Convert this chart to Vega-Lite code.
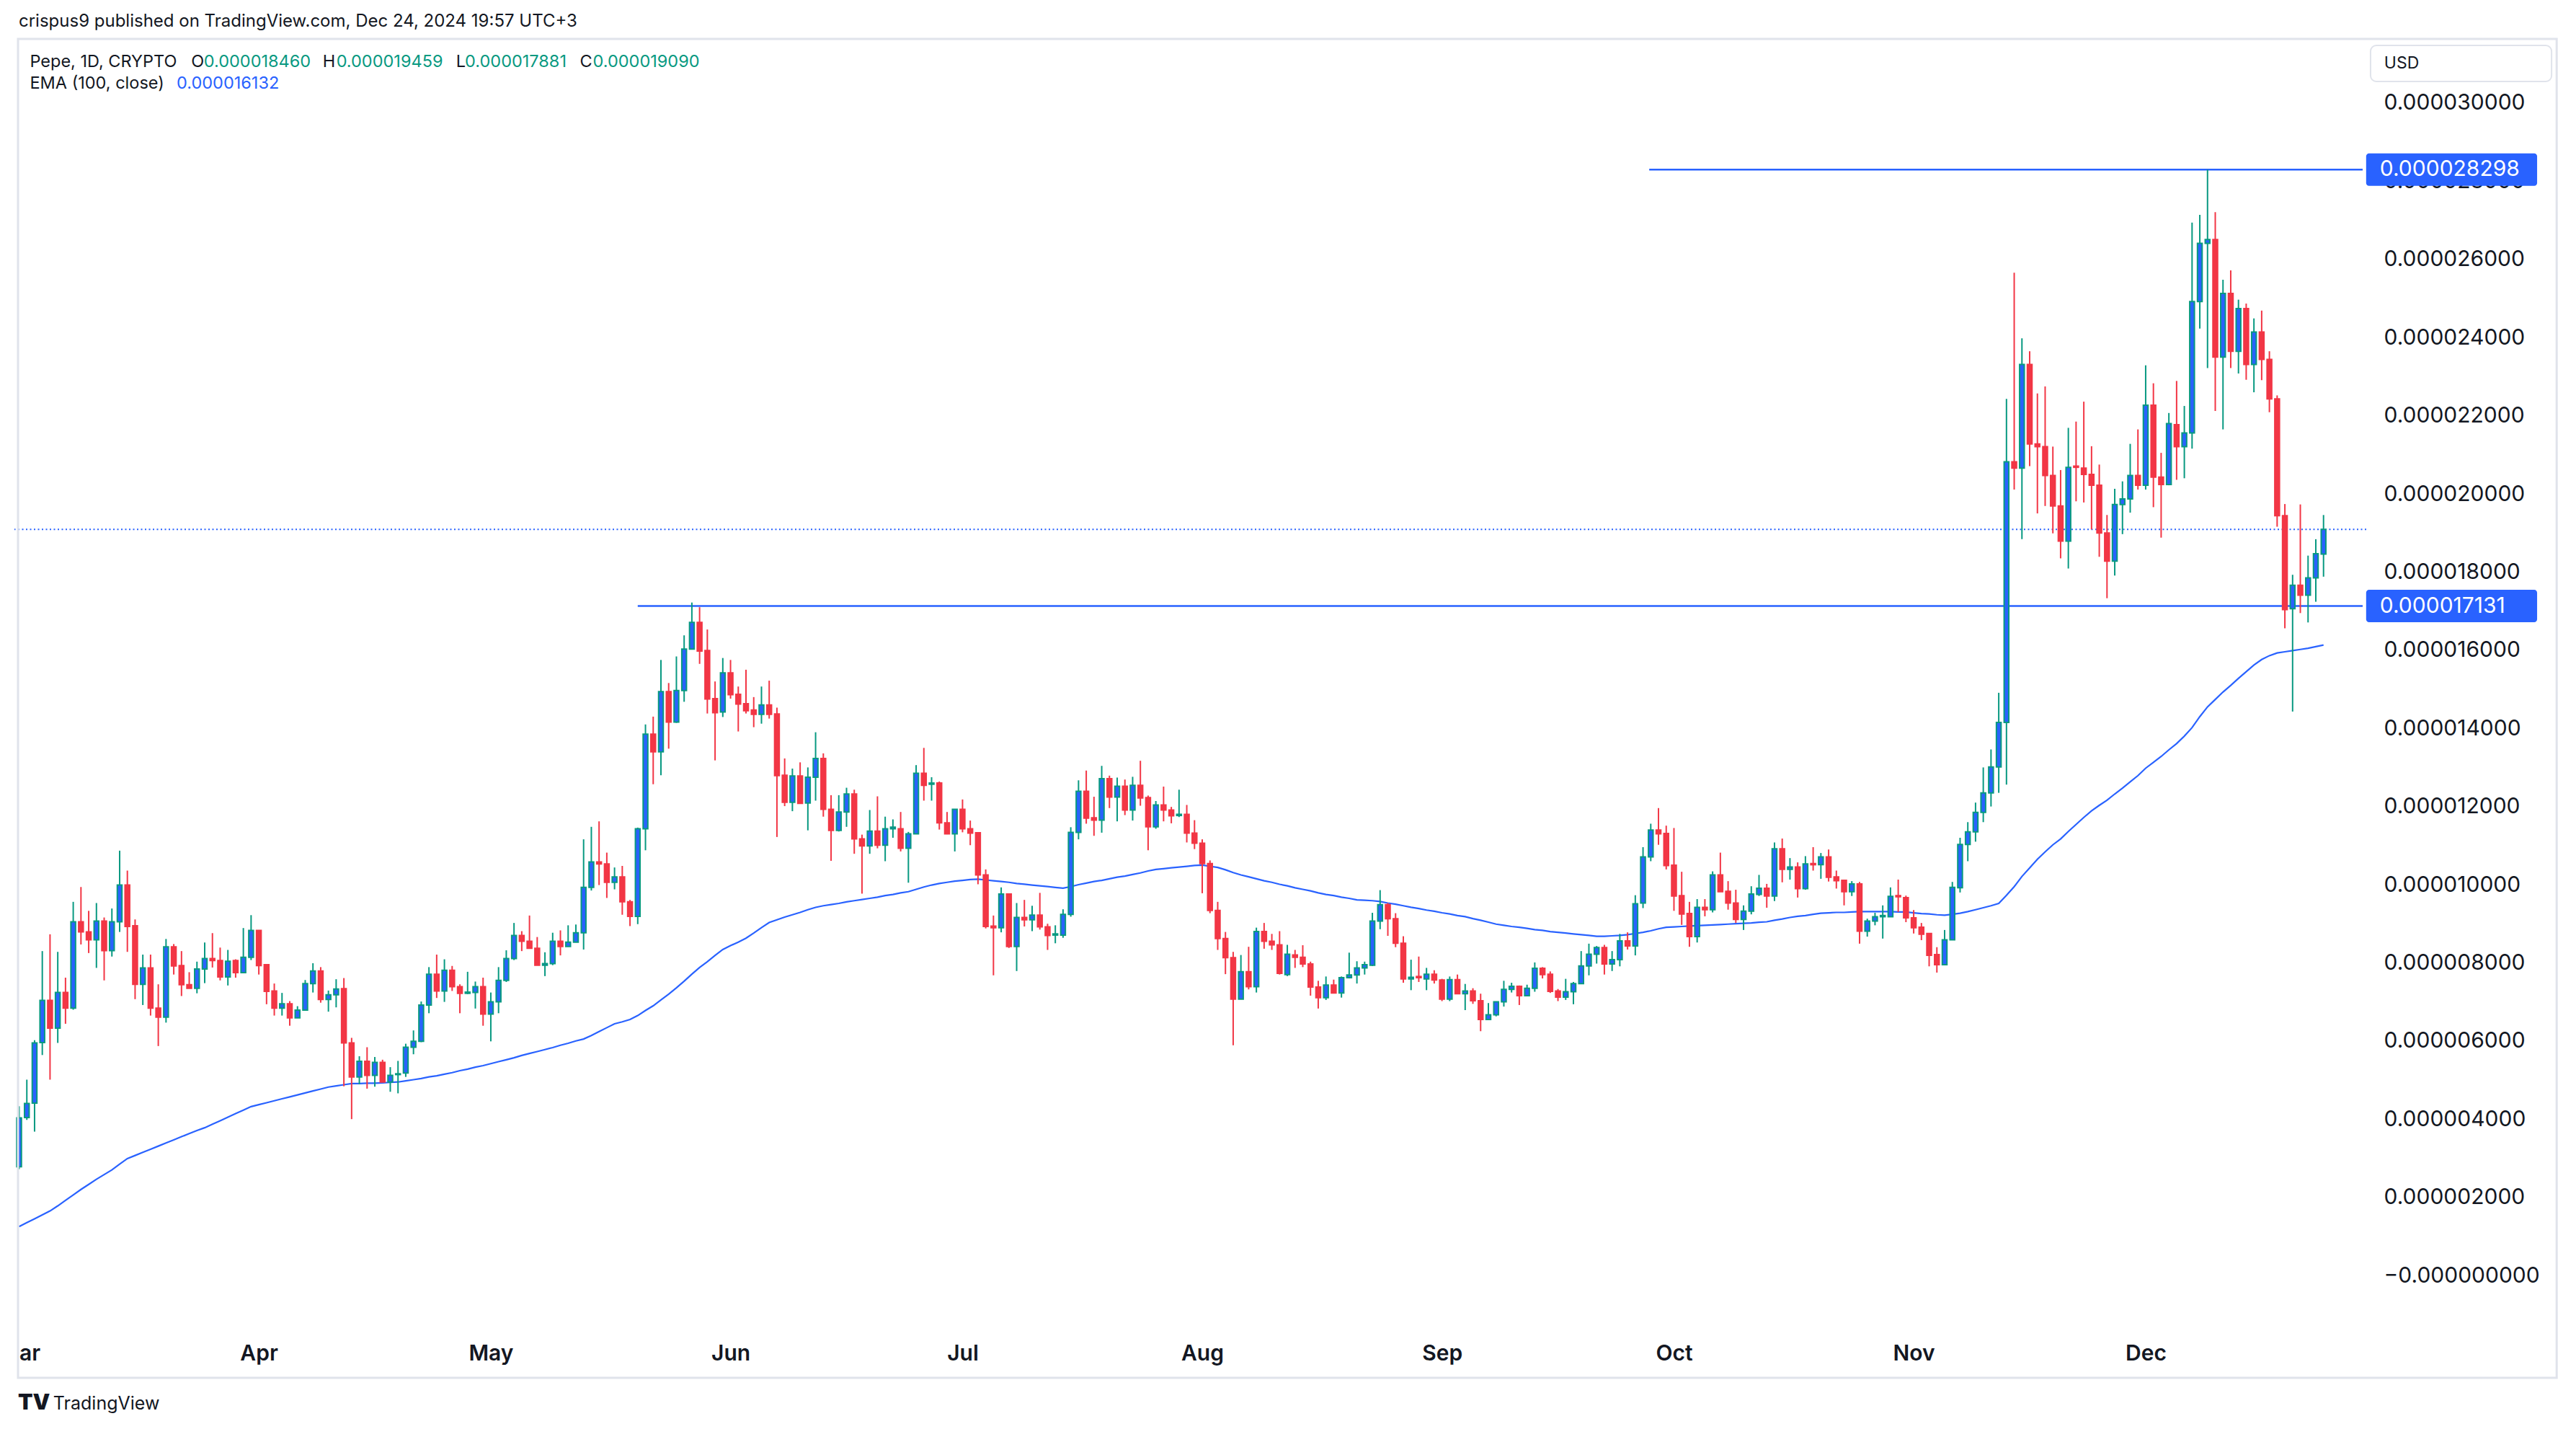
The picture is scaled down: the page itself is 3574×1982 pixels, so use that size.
{
"$schema": "https://vega.github.io/schema/vega-lite/v6.json",
"width": 3263, "height": 1791,
"autosize": {"type": "none"},
"padding": {"left": 20, "top": 54, "right": 291, "bottom": 137},
"background": "#ffffff",
"config": {"view": {"stroke": null}, "font": "Inter"},
"data": {"values": [
{"t":"2024-03-01","o":2.78e-6,"h":4.33e-6,"l":2.72e-6,"c":4.03e-6,"e":1.25e-6},
{"t":"2024-03-02","o":4.04e-6,"h":5.01e-6,"l":3.98e-6,"c":4.40e-6,"e":1.35e-6},
{"t":"2024-03-03","o":4.41e-6,"h":6.02e-6,"l":3.68e-6,"c":5.95e-6,"e":1.45e-6},
{"t":"2024-03-04","o":5.96e-6,"h":8.30e-6,"l":5.64e-6,"c":7.04e-6,"e":1.55e-6},
{"t":"2024-03-05","o":7.04e-6,"h":8.73e-6,"l":5.01e-6,"c":6.33e-6,"e":1.65e-6},
{"t":"2024-03-06","o":6.33e-6,"h":8.28e-6,"l":5.95e-6,"c":7.24e-6,"e":1.78e-6},
{"t":"2024-03-07","o":7.24e-6,"h":7.62e-6,"l":6.44e-6,"c":6.84e-6,"e":1.92e-6},
{"t":"2024-03-08","o":6.84e-6,"h":9.56e-6,"l":6.80e-6,"c":9.05e-6,"e":2.06e-6},
{"t":"2024-03-09","o":9.05e-6,"h":9.94e-6,"l":8.47e-6,"c":8.79e-6,"e":2.20e-6},
{"t":"2024-03-10","o":8.79e-6,"h":9.33e-6,"l":8.25e-6,"c":8.59e-6,"e":2.33e-6},
{"t":"2024-03-11","o":8.59e-6,"h":9.53e-6,"l":7.87e-6,"c":9.07e-6,"e":2.46e-6},
{"t":"2024-03-12","o":9.07e-6,"h":9.16e-6,"l":7.55e-6,"c":8.31e-6,"e":2.58e-6},
{"t":"2024-03-13","o":8.31e-6,"h":9.39e-6,"l":8.16e-6,"c":9.05e-6,"e":2.70e-6},
{"t":"2024-03-14","o":9.05e-6,"h":10.87e-6,"l":8.79e-6,"c":9.99e-6,"e":2.85e-6},
{"t":"2024-03-15","o":9.99e-6,"h":10.36e-6,"l":8.28e-6,"c":8.93e-6,"e":2.99e-6},
{"t":"2024-03-16","o":8.95e-6,"h":9.11e-6,"l":7.07e-6,"c":7.45e-6,"e":3.07e-6},
{"t":"2024-03-17","o":7.45e-6,"h":8.21e-6,"l":6.92e-6,"c":7.87e-6,"e":3.15e-6},
{"t":"2024-03-18","o":7.87e-6,"h":8.21e-6,"l":6.65e-6,"c":6.84e-6,"e":3.23e-6},
{"t":"2024-03-19","o":6.84e-6,"h":7.45e-6,"l":5.87e-6,"c":6.61e-6,"e":3.31e-6},
{"t":"2024-03-20","o":6.61e-6,"h":8.61e-6,"l":6.47e-6,"c":8.41e-6,"e":3.39e-6},
{"t":"2024-03-21","o":8.41e-6,"h":8.48e-6,"l":7.70e-6,"c":7.92e-6,"e":3.47e-6},
{"t":"2024-03-22","o":7.93e-6,"h":8.30e-6,"l":7.15e-6,"c":7.44e-6,"e":3.55e-6},
{"t":"2024-03-23","o":7.44e-6,"h":7.76e-6,"l":7.35e-6,"c":7.35e-6,"e":3.63e-6},
{"t":"2024-03-24","o":7.35e-6,"h":8.03e-6,"l":7.22e-6,"c":7.84e-6,"e":3.71e-6},
{"t":"2024-03-25","o":7.84e-6,"h":8.52e-6,"l":7.48e-6,"c":8.11e-6,"e":3.78e-6},
{"t":"2024-03-26","o":8.11e-6,"h":8.76e-6,"l":7.88e-6,"c":8.06e-6,"e":3.87e-6},
{"t":"2024-03-27","o":8.06e-6,"h":8.39e-6,"l":7.55e-6,"c":7.64e-6,"e":3.96e-6},
{"t":"2024-03-28","o":7.64e-6,"h":8.33e-6,"l":7.42e-6,"c":8.04e-6,"e":4.05e-6},
{"t":"2024-03-29","o":8.06e-6,"h":8.09e-6,"l":7.62e-6,"c":7.75e-6,"e":4.14e-6},
{"t":"2024-03-30","o":7.75e-6,"h":8.89e-6,"l":7.75e-6,"c":8.14e-6,"e":4.23e-6},
{"t":"2024-03-31","o":8.14e-6,"h":9.22e-6,"l":8.07e-6,"c":8.83e-6,"e":4.32e-6},
{"t":"2024-04-01","o":8.83e-6,"h":8.83e-6,"l":7.70e-6,"c":7.93e-6,"e":4.37e-6},
{"t":"2024-04-02","o":7.95e-6,"h":7.95e-6,"l":6.94e-6,"c":7.27e-6,"e":4.42e-6},
{"t":"2024-04-03","o":7.28e-6,"h":7.47e-6,"l":6.65e-6,"c":6.84e-6,"e":4.47e-6},
{"t":"2024-04-04","o":6.84e-6,"h":7.23e-6,"l":6.65e-6,"c":6.95e-6,"e":4.52e-6},
{"t":"2024-04-05","o":6.95e-6,"h":7.02e-6,"l":6.39e-6,"c":6.59e-6,"e":4.57e-6},
{"t":"2024-04-06","o":6.59e-6,"h":6.89e-6,"l":6.59e-6,"c":6.79e-6,"e":4.62e-6},
{"t":"2024-04-07","o":6.79e-6,"h":7.56e-6,"l":6.78e-6,"c":7.47e-6,"e":4.67e-6},
{"t":"2024-04-08","o":7.47e-6,"h":7.99e-6,"l":7.24e-6,"c":7.79e-6,"e":4.72e-6},
{"t":"2024-04-09","o":7.79e-6,"h":7.89e-6,"l":6.98e-6,"c":7.06e-6,"e":4.77e-6},
{"t":"2024-04-10","o":7.06e-6,"h":7.29e-6,"l":6.75e-6,"c":7.18e-6,"e":4.82e-6},
{"t":"2024-04-11","o":7.18e-6,"h":7.58e-6,"l":6.86e-6,"c":7.33e-6,"e":4.85e-6},
{"t":"2024-04-12","o":7.34e-6,"h":7.61e-6,"l":4.84e-6,"c":5.95e-6,"e":4.88e-6},
{"t":"2024-04-13","o":5.95e-6,"h":6.08e-6,"l":4.00e-6,"c":5.08e-6,"e":4.91e-6},
{"t":"2024-04-14","o":5.08e-6,"h":5.61e-6,"l":4.89e-6,"c":5.48e-6,"e":4.91e-6},
{"t":"2024-04-15","o":5.48e-6,"h":5.84e-6,"l":4.78e-6,"c":5.12e-6,"e":4.92e-6},
{"t":"2024-04-16","o":5.12e-6,"h":5.59e-6,"l":4.83e-6,"c":5.45e-6,"e":4.92e-6},
{"t":"2024-04-17","o":5.45e-6,"h":5.52e-6,"l":4.95e-6,"c":4.95e-6,"e":4.93e-6},
{"t":"2024-04-18","o":4.95e-6,"h":5.33e-6,"l":4.70e-6,"c":5.12e-6,"e":4.94e-6},
{"t":"2024-04-19","o":5.14e-6,"h":5.49e-6,"l":4.66e-6,"c":5.16e-6,"e":4.95e-6},
{"t":"2024-04-20","o":5.18e-6,"h":5.93e-6,"l":5.08e-6,"c":5.84e-6,"e":4.98e-6},
{"t":"2024-04-21","o":5.84e-6,"h":6.27e-6,"l":5.66e-6,"c":5.99e-6,"e":5.01e-6},
{"t":"2024-04-22","o":5.99e-6,"h":7.01e-6,"l":5.97e-6,"c":6.92e-6,"e":5.04e-6},
{"t":"2024-04-23","o":6.92e-6,"h":7.89e-6,"l":6.71e-6,"c":7.71e-6,"e":5.08e-6},
{"t":"2024-04-24","o":7.71e-6,"h":8.21e-6,"l":7.10e-6,"c":7.28e-6,"e":5.11e-6},
{"t":"2024-04-25","o":7.28e-6,"h":8.09e-6,"l":7.00e-6,"c":7.81e-6,"e":5.15e-6},
{"t":"2024-04-26","o":7.81e-6,"h":7.92e-6,"l":7.28e-6,"c":7.39e-6,"e":5.19e-6},
{"t":"2024-04-27","o":7.39e-6,"h":7.45e-6,"l":6.71e-6,"c":7.22e-6,"e":5.24e-6},
{"t":"2024-04-28","o":7.22e-6,"h":7.77e-6,"l":7.20e-6,"c":7.25e-6,"e":5.28e-6},
{"t":"2024-04-29","o":7.24e-6,"h":7.52e-6,"l":6.83e-6,"c":7.39e-6,"e":5.33e-6},
{"t":"2024-04-30","o":7.39e-6,"h":7.62e-6,"l":6.39e-6,"c":6.69e-6,"e":5.37e-6},
{"t":"2024-05-01","o":6.69e-6,"h":7.24e-6,"l":5.99e-6,"c":7.00e-6,"e":5.42e-6},
{"t":"2024-05-02","o":7.00e-6,"h":7.89e-6,"l":6.71e-6,"c":7.55e-6,"e":5.47e-6},
{"t":"2024-05-03","o":7.55e-6,"h":8.32e-6,"l":7.51e-6,"c":8.11e-6,"e":5.52e-6},
{"t":"2024-05-04","o":8.11e-6,"h":9.02e-6,"l":8.07e-6,"c":8.70e-6,"e":5.57e-6},
{"t":"2024-05-05","o":8.70e-6,"h":8.81e-6,"l":8.30e-6,"c":8.55e-6,"e":5.63e-6},
{"t":"2024-05-06","o":8.55e-6,"h":9.21e-6,"l":8.37e-6,"c":8.37e-6,"e":5.68e-6},
{"t":"2024-05-07","o":8.37e-6,"h":8.66e-6,"l":7.94e-6,"c":7.94e-6,"e":5.73e-6},
{"t":"2024-05-08","o":7.94e-6,"h":8.27e-6,"l":7.66e-6,"c":7.98e-6,"e":5.78e-6},
{"t":"2024-05-09","o":7.98e-6,"h":8.77e-6,"l":7.94e-6,"c":8.55e-6,"e":5.83e-6},
{"t":"2024-05-10","o":8.55e-6,"h":8.83e-6,"l":8.19e-6,"c":8.42e-6,"e":5.89e-6},
{"t":"2024-05-11","o":8.42e-6,"h":8.96e-6,"l":8.42e-6,"c":8.53e-6,"e":5.94e-6},
{"t":"2024-05-12","o":8.53e-6,"h":8.98e-6,"l":8.53e-6,"c":8.77e-6,"e":6.00e-6},
{"t":"2024-05-13","o":8.77e-6,"h":11.16e-6,"l":8.34e-6,"c":9.93e-6,"e":6.05e-6},
{"t":"2024-05-14","o":9.93e-6,"h":11.48e-6,"l":9.85e-6,"c":10.58e-6,"e":6.14e-6},
{"t":"2024-05-15","o":10.58e-6,"h":11.62e-6,"l":9.99e-6,"c":10.53e-6,"e":6.24e-6},
{"t":"2024-05-16","o":10.53e-6,"h":10.82e-6,"l":9.66e-6,"c":10.06e-6,"e":6.34e-6},
{"t":"2024-05-17","o":10.06e-6,"h":10.44e-6,"l":9.88e-6,"c":10.20e-6,"e":6.44e-6},
{"t":"2024-05-18","o":10.20e-6,"h":10.48e-6,"l":9.23e-6,"c":9.56e-6,"e":6.49e-6},
{"t":"2024-05-19","o":9.56e-6,"h":9.61e-6,"l":8.94e-6,"c":9.19e-6,"e":6.55e-6},
{"t":"2024-05-20","o":9.19e-6,"h":11.46e-6,"l":8.99e-6,"c":11.43e-6,"e":6.65e-6},
{"t":"2024-05-21","o":11.43e-6,"h":14.10e-6,"l":10.88e-6,"c":13.85e-6,"e":6.78e-6},
{"t":"2024-05-22","o":13.85e-6,"h":14.30e-6,"l":12.57e-6,"c":13.40e-6,"e":6.90e-6},
{"t":"2024-05-23","o":13.40e-6,"h":15.75e-6,"l":12.80e-6,"c":14.94e-6,"e":7.05e-6},
{"t":"2024-05-24","o":14.94e-6,"h":15.16e-6,"l":13.48e-6,"c":14.16e-6,"e":7.20e-6},
{"t":"2024-05-25","o":14.16e-6,"h":15.84e-6,"l":14.14e-6,"c":14.97e-6,"e":7.36e-6},
{"t":"2024-05-26","o":14.97e-6,"h":16.38e-6,"l":14.68e-6,"c":16.03e-6,"e":7.53e-6},
{"t":"2024-05-27","o":16.03e-6,"h":17.22e-6,"l":16.03e-6,"c":16.71e-6,"e":7.71e-6},
{"t":"2024-05-28","o":16.71e-6,"h":17.10e-6,"l":15.65e-6,"c":15.98e-6,"e":7.88e-6},
{"t":"2024-05-29","o":15.99e-6,"h":16.53e-6,"l":14.38e-6,"c":14.75e-6,"e":8.03e-6},
{"t":"2024-05-30","o":14.76e-6,"h":15.20e-6,"l":13.18e-6,"c":14.40e-6,"e":8.19e-6},
{"t":"2024-05-31","o":14.42e-6,"h":15.80e-6,"l":14.29e-6,"c":15.42e-6,"e":8.34e-6},
{"t":"2024-06-01","o":15.42e-6,"h":15.75e-6,"l":14.76e-6,"c":14.86e-6,"e":8.44e-6},
{"t":"2024-06-02","o":14.87e-6,"h":15.07e-6,"l":13.92e-6,"c":14.62e-6,"e":8.53e-6},
{"t":"2024-06-03","o":14.63e-6,"h":15.50e-6,"l":14.38e-6,"c":14.45e-6,"e":8.63e-6},
{"t":"2024-06-04","o":14.47e-6,"h":14.80e-6,"l":14.03e-6,"c":14.36e-6,"e":8.76e-6},
{"t":"2024-06-05","o":14.36e-6,"h":15.07e-6,"l":14.12e-6,"c":14.60e-6,"e":8.90e-6},
{"t":"2024-06-06","o":14.60e-6,"h":15.22e-6,"l":14.25e-6,"c":14.36e-6,"e":9.03e-6},
{"t":"2024-06-07","o":14.37e-6,"h":14.53e-6,"l":11.22e-6,"c":12.79e-6,"e":9.10e-6},
{"t":"2024-06-08","o":12.80e-6,"h":13.23e-6,"l":12.01e-6,"c":12.11e-6,"e":9.17e-6},
{"t":"2024-06-09","o":12.11e-6,"h":12.97e-6,"l":11.88e-6,"c":12.78e-6,"e":9.23e-6},
{"t":"2024-06-10","o":12.78e-6,"h":13.13e-6,"l":12.08e-6,"c":12.08e-6,"e":9.29e-6},
{"t":"2024-06-11","o":12.09e-6,"h":13.00e-6,"l":11.39e-6,"c":12.75e-6,"e":9.36e-6},
{"t":"2024-06-12","o":12.75e-6,"h":13.90e-6,"l":12.15e-6,"c":13.23e-6,"e":9.42e-6},
{"t":"2024-06-13","o":13.23e-6,"h":13.36e-6,"l":11.74e-6,"c":11.93e-6,"e":9.46e-6},
{"t":"2024-06-14","o":11.93e-6,"h":12.29e-6,"l":10.61e-6,"c":11.39e-6,"e":9.49e-6},
{"t":"2024-06-15","o":11.39e-6,"h":12.29e-6,"l":11.36e-6,"c":11.86e-6,"e":9.52e-6},
{"t":"2024-06-16","o":11.86e-6,"h":12.48e-6,"l":11.48e-6,"c":12.32e-6,"e":9.56e-6},
{"t":"2024-06-17","o":12.32e-6,"h":12.43e-6,"l":10.79e-6,"c":11.17e-6,"e":9.59e-6},
{"t":"2024-06-18","o":11.17e-6,"h":11.28e-6,"l":9.77e-6,"c":10.99e-6,"e":9.62e-6},
{"t":"2024-06-19","o":10.99e-6,"h":11.91e-6,"l":10.79e-6,"c":11.37e-6,"e":9.65e-6},
{"t":"2024-06-20","o":11.37e-6,"h":12.26e-6,"l":10.93e-6,"c":11.01e-6,"e":9.68e-6},
{"t":"2024-06-21","o":11.01e-6,"h":11.74e-6,"l":10.60e-6,"c":11.43e-6,"e":9.72e-6},
{"t":"2024-06-22","o":11.43e-6,"h":11.67e-6,"l":11.20e-6,"c":11.47e-6,"e":9.75e-6},
{"t":"2024-06-23","o":11.43e-6,"h":11.86e-6,"l":10.85e-6,"c":10.93e-6,"e":9.79e-6},
{"t":"2024-06-24","o":10.93e-6,"h":11.35e-6,"l":10.05e-6,"c":11.30e-6,"e":9.82e-6},
{"t":"2024-06-25","o":11.30e-6,"h":13.06e-6,"l":11.30e-6,"c":12.85e-6,"e":9.88e-6},
{"t":"2024-06-26","o":12.85e-6,"h":13.50e-6,"l":12.15e-6,"c":12.54e-6,"e":9.94e-6},
{"t":"2024-06-27","o":12.57e-6,"h":12.75e-6,"l":12.15e-6,"c":12.60e-6,"e":9.99e-6},
{"t":"2024-06-28","o":12.60e-6,"h":12.64e-6,"l":11.41e-6,"c":11.58e-6,"e":10.03e-6},
{"t":"2024-06-29","o":11.58e-6,"h":11.86e-6,"l":11.29e-6,"c":11.30e-6,"e":10.06e-6},
{"t":"2024-06-30","o":11.30e-6,"h":11.93e-6,"l":10.85e-6,"c":11.93e-6,"e":10.09e-6},
{"t":"2024-07-01","o":11.93e-6,"h":12.18e-6,"l":11.34e-6,"c":11.43e-6,"e":10.11e-6},
{"t":"2024-07-02","o":11.43e-6,"h":11.64e-6,"l":11.01e-6,"c":11.32e-6,"e":10.13e-6},
{"t":"2024-07-03","o":11.33e-6,"h":11.34e-6,"l":10.01e-6,"c":10.25e-6,"e":10.14e-6},
{"t":"2024-07-04","o":10.25e-6,"h":10.39e-6,"l":8.88e-6,"c":8.93e-6,"e":10.12e-6},
{"t":"2024-07-05","o":8.94e-6,"h":9.21e-6,"l":7.68e-6,"c":8.90e-6,"e":10.10e-6},
{"t":"2024-07-06","o":8.90e-6,"h":9.93e-6,"l":8.78e-6,"c":9.76e-6,"e":10.08e-6},
{"t":"2024-07-07","o":9.76e-6,"h":9.76e-6,"l":8.38e-6,"c":8.42e-6,"e":10.06e-6},
{"t":"2024-07-08","o":8.42e-6,"h":9.53e-6,"l":7.79e-6,"c":9.16e-6,"e":10.03e-6},
{"t":"2024-07-09","o":9.16e-6,"h":9.61e-6,"l":8.93e-6,"c":9.10e-6,"e":10.01e-6},
{"t":"2024-07-10","o":9.10e-6,"h":9.46e-6,"l":8.81e-6,"c":9.22e-6,"e":9.99e-6},
{"t":"2024-07-11","o":9.22e-6,"h":9.79e-6,"l":8.85e-6,"c":8.92e-6,"e":9.97e-6},
{"t":"2024-07-12","o":8.92e-6,"h":9.00e-6,"l":8.33e-6,"c":8.70e-6,"e":9.95e-6},
{"t":"2024-07-13","o":8.71e-6,"h":8.96e-6,"l":8.50e-6,"c":8.74e-6,"e":9.93e-6},
{"t":"2024-07-14","o":8.71e-6,"h":9.37e-6,"l":8.64e-6,"c":9.24e-6,"e":9.91e-6},
{"t":"2024-07-15","o":9.24e-6,"h":11.47e-6,"l":9.18e-6,"c":11.34e-6,"e":9.95e-6},
{"t":"2024-07-16","o":11.34e-6,"h":12.67e-6,"l":11.16e-6,"c":12.39e-6,"e":10.00e-6},
{"t":"2024-07-17","o":12.39e-6,"h":12.92e-6,"l":11.56e-6,"c":11.70e-6,"e":10.04e-6},
{"t":"2024-07-18","o":11.71e-6,"h":12.25e-6,"l":11.25e-6,"c":11.65e-6,"e":10.08e-6},
{"t":"2024-07-19","o":11.65e-6,"h":13.04e-6,"l":11.33e-6,"c":12.71e-6,"e":10.11e-6},
{"t":"2024-07-20","o":12.71e-6,"h":12.79e-6,"l":11.96e-6,"c":12.24e-6,"e":10.15e-6},
{"t":"2024-07-21","o":12.24e-6,"h":12.74e-6,"l":11.62e-6,"c":12.52e-6,"e":10.19e-6},
{"t":"2024-07-22","o":12.52e-6,"h":12.69e-6,"l":11.78e-6,"c":11.91e-6,"e":10.22e-6},
{"t":"2024-07-23","o":11.91e-6,"h":12.76e-6,"l":11.64e-6,"c":12.54e-6,"e":10.26e-6},
{"t":"2024-07-24","o":12.54e-6,"h":13.17e-6,"l":12.02e-6,"c":12.22e-6,"e":10.30e-6},
{"t":"2024-07-25","o":12.23e-6,"h":12.28e-6,"l":10.88e-6,"c":11.48e-6,"e":10.35e-6},
{"t":"2024-07-26","o":11.48e-6,"h":12.14e-6,"l":11.43e-6,"c":12.04e-6,"e":10.39e-6},
{"t":"2024-07-27","o":12.04e-6,"h":12.51e-6,"l":11.62e-6,"c":11.91e-6,"e":10.41e-6},
{"t":"2024-07-28","o":11.91e-6,"h":11.99e-6,"l":11.57e-6,"c":11.76e-6,"e":10.43e-6},
{"t":"2024-07-29","o":11.77e-6,"h":12.43e-6,"l":11.73e-6,"c":11.80e-6,"e":10.45e-6},
{"t":"2024-07-30","o":11.80e-6,"h":12.04e-6,"l":11.08e-6,"c":11.32e-6,"e":10.47e-6},
{"t":"2024-07-31","o":11.32e-6,"h":11.65e-6,"l":10.91e-6,"c":11.06e-6,"e":10.49e-6},
{"t":"2024-08-01","o":11.06e-6,"h":11.16e-6,"l":9.78e-6,"c":10.54e-6,"e":10.50e-6},
{"t":"2024-08-02","o":10.54e-6,"h":10.62e-6,"l":9.27e-6,"c":9.34e-6,"e":10.47e-6},
{"t":"2024-08-03","o":9.34e-6,"h":9.56e-6,"l":8.33e-6,"c":8.62e-6,"e":10.44e-6},
{"t":"2024-08-04","o":8.62e-6,"h":8.79e-6,"l":7.71e-6,"c":8.13e-6,"e":10.38e-6},
{"t":"2024-08-05","o":8.13e-6,"h":8.28e-6,"l":5.89e-6,"c":7.07e-6,"e":10.31e-6},
{"t":"2024-08-06","o":7.07e-6,"h":8.20e-6,"l":7.07e-6,"c":7.77e-6,"e":10.25e-6},
{"t":"2024-08-07","o":7.77e-6,"h":8.41e-6,"l":7.32e-6,"c":7.39e-6,"e":10.20e-6},
{"t":"2024-08-08","o":7.39e-6,"h":8.90e-6,"l":7.24e-6,"c":8.80e-6,"e":10.15e-6},
{"t":"2024-08-09","o":8.80e-6,"h":9.02e-6,"l":8.36e-6,"c":8.55e-6,"e":10.10e-6},
{"t":"2024-08-10","o":8.55e-6,"h":8.74e-6,"l":8.33e-6,"c":8.46e-6,"e":10.06e-6},
{"t":"2024-08-11","o":8.46e-6,"h":8.81e-6,"l":7.70e-6,"c":7.73e-6,"e":10.01e-6},
{"t":"2024-08-12","o":7.70e-6,"h":8.46e-6,"l":7.66e-6,"c":8.22e-6,"e":9.97e-6},
{"t":"2024-08-13","o":8.20e-6,"h":8.33e-6,"l":7.87e-6,"c":8.14e-6,"e":9.92e-6},
{"t":"2024-08-14","o":8.14e-6,"h":8.45e-6,"l":7.89e-6,"c":7.97e-6,"e":9.88e-6},
{"t":"2024-08-15","o":7.97e-6,"h":8.03e-6,"l":7.16e-6,"c":7.38e-6,"e":9.84e-6},
{"t":"2024-08-16","o":7.38e-6,"h":7.54e-6,"l":6.83e-6,"c":7.11e-6,"e":9.79e-6},
{"t":"2024-08-17","o":7.11e-6,"h":7.65e-6,"l":7.05e-6,"c":7.43e-6,"e":9.75e-6},
{"t":"2024-08-18","o":7.43e-6,"h":7.57e-6,"l":7.23e-6,"c":7.23e-6,"e":9.72e-6},
{"t":"2024-08-19","o":7.23e-6,"h":7.65e-6,"l":7.11e-6,"c":7.62e-6,"e":9.68e-6},
{"t":"2024-08-20","o":7.62e-6,"h":8.26e-6,"l":7.60e-6,"c":7.69e-6,"e":9.65e-6},
{"t":"2024-08-21","o":7.69e-6,"h":8.04e-6,"l":7.47e-6,"c":7.87e-6,"e":9.61e-6},
{"t":"2024-08-22","o":7.87e-6,"h":8.03e-6,"l":7.70e-6,"c":7.95e-6,"e":9.60e-6},
{"t":"2024-08-23","o":7.94e-6,"h":9.28e-6,"l":7.92e-6,"c":9.07e-6,"e":9.59e-6},
{"t":"2024-08-24","o":9.07e-6,"h":9.86e-6,"l":8.86e-6,"c":9.49e-6,"e":9.57e-6},
{"t":"2024-08-25","o":9.49e-6,"h":9.53e-6,"l":8.69e-6,"c":9.13e-6,"e":9.53e-6},
{"t":"2024-08-26","o":9.13e-6,"h":9.27e-6,"l":8.40e-6,"c":8.50e-6,"e":9.50e-6},
{"t":"2024-08-27","o":8.50e-6,"h":8.68e-6,"l":7.49e-6,"c":7.59e-6,"e":9.46e-6},
{"t":"2024-08-28","o":7.59e-6,"h":8.08e-6,"l":7.30e-6,"c":7.63e-6,"e":9.42e-6},
{"t":"2024-08-29","o":7.65e-6,"h":8.16e-6,"l":7.51e-6,"c":7.62e-6,"e":9.39e-6},
{"t":"2024-08-30","o":7.59e-6,"h":7.87e-6,"l":7.30e-6,"c":7.71e-6,"e":9.35e-6},
{"t":"2024-08-31","o":7.71e-6,"h":7.81e-6,"l":7.47e-6,"c":7.56e-6,"e":9.32e-6},
{"t":"2024-09-01","o":7.56e-6,"h":7.59e-6,"l":7.02e-6,"c":7.07e-6,"e":9.28e-6},
{"t":"2024-09-02","o":7.07e-6,"h":7.65e-6,"l":7.02e-6,"c":7.57e-6,"e":9.25e-6},
{"t":"2024-09-03","o":7.57e-6,"h":7.70e-6,"l":7.21e-6,"c":7.21e-6,"e":9.21e-6},
{"t":"2024-09-04","o":7.21e-6,"h":7.46e-6,"l":6.79e-6,"c":7.28e-6,"e":9.18e-6},
{"t":"2024-09-05","o":7.28e-6,"h":7.35e-6,"l":6.95e-6,"c":7.03e-6,"e":9.13e-6},
{"t":"2024-09-06","o":7.03e-6,"h":7.21e-6,"l":6.25e-6,"c":6.55e-6,"e":9.09e-6},
{"t":"2024-09-07","o":6.55e-6,"h":6.97e-6,"l":6.55e-6,"c":6.67e-6,"e":9.04e-6},
{"t":"2024-09-08","o":6.67e-6,"h":7.00e-6,"l":6.63e-6,"c":7.00e-6,"e":8.99e-6},
{"t":"2024-09-09","o":7.00e-6,"h":7.54e-6,"l":6.88e-6,"c":7.32e-6,"e":8.96e-6},
{"t":"2024-09-10","o":7.32e-6,"h":7.49e-6,"l":7.24e-6,"c":7.40e-6,"e":8.93e-6},
{"t":"2024-09-11","o":7.40e-6,"h":7.42e-6,"l":6.92e-6,"c":7.16e-6,"e":8.91e-6},
{"t":"2024-09-12","o":7.16e-6,"h":7.44e-6,"l":7.16e-6,"c":7.35e-6,"e":8.88e-6},
{"t":"2024-09-13","o":7.35e-6,"h":8.01e-6,"l":7.26e-6,"c":7.86e-6,"e":8.85e-6},
{"t":"2024-09-14","o":7.86e-6,"h":7.89e-6,"l":7.60e-6,"c":7.70e-6,"e":8.83e-6},
{"t":"2024-09-15","o":7.71e-6,"h":7.78e-6,"l":7.23e-6,"c":7.27e-6,"e":8.80e-6},
{"t":"2024-09-16","o":7.28e-6,"h":7.33e-6,"l":7.02e-6,"c":7.12e-6,"e":8.78e-6},
{"t":"2024-09-17","o":7.12e-6,"h":7.59e-6,"l":7.05e-6,"c":7.26e-6,"e":8.76e-6},
{"t":"2024-09-18","o":7.26e-6,"h":7.51e-6,"l":6.94e-6,"c":7.47e-6,"e":8.74e-6},
{"t":"2024-09-19","o":7.47e-6,"h":8.30e-6,"l":7.47e-6,"c":7.92e-6,"e":8.72e-6},
{"t":"2024-09-20","o":7.92e-6,"h":8.49e-6,"l":7.68e-6,"c":8.22e-6,"e":8.70e-6},
{"t":"2024-09-21","o":8.22e-6,"h":8.43e-6,"l":7.98e-6,"c":8.39e-6,"e":8.68e-6},
{"t":"2024-09-22","o":8.39e-6,"h":8.46e-6,"l":7.70e-6,"c":7.97e-6,"e":8.68e-6},
{"t":"2024-09-23","o":7.97e-6,"h":8.30e-6,"l":7.79e-6,"c":8.08e-6,"e":8.69e-6},
{"t":"2024-09-24","o":8.08e-6,"h":8.74e-6,"l":7.91e-6,"c":8.56e-6,"e":8.70e-6},
{"t":"2024-09-25","o":8.56e-6,"h":8.78e-6,"l":8.34e-6,"c":8.43e-6,"e":8.72e-6},
{"t":"2024-09-26","o":8.43e-6,"h":9.73e-6,"l":8.19e-6,"c":9.51e-6,"e":8.75e-6},
{"t":"2024-09-27","o":9.53e-6,"h":10.96e-6,"l":9.40e-6,"c":10.71e-6,"e":8.78e-6},
{"t":"2024-09-28","o":10.71e-6,"h":11.56e-6,"l":10.60e-6,"c":11.40e-6,"e":8.82e-6},
{"t":"2024-09-29","o":11.40e-6,"h":11.96e-6,"l":11.02e-6,"c":11.30e-6,"e":8.87e-6},
{"t":"2024-09-30","o":11.31e-6,"h":11.51e-6,"l":10.39e-6,"c":10.49e-6,"e":8.91e-6},
{"t":"2024-10-01","o":10.50e-6,"h":11.45e-6,"l":9.33e-6,"c":9.71e-6,"e":8.92e-6},
{"t":"2024-10-02","o":9.72e-6,"h":10.33e-6,"l":8.97e-6,"c":9.25e-6,"e":8.93e-6},
{"t":"2024-10-03","o":9.26e-6,"h":9.56e-6,"l":8.41e-6,"c":8.67e-6,"e":8.94e-6},
{"t":"2024-10-04","o":8.67e-6,"h":9.63e-6,"l":8.52e-6,"c":9.42e-6,"e":8.95e-6},
{"t":"2024-10-05","o":9.42e-6,"h":9.63e-6,"l":9.19e-6,"c":9.36e-6,"e":8.96e-6},
{"t":"2024-10-06","o":9.36e-6,"h":10.34e-6,"l":9.29e-6,"c":10.25e-6,"e":8.97e-6},
{"t":"2024-10-07","o":10.25e-6,"h":10.82e-6,"l":9.82e-6,"c":9.82e-6,"e":8.98e-6},
{"t":"2024-10-08","o":9.83e-6,"h":10.09e-6,"l":9.36e-6,"c":9.53e-6,"e":8.99e-6},
{"t":"2024-10-09","o":9.53e-6,"h":9.87e-6,"l":9.02e-6,"c":9.11e-6,"e":9.00e-6},
{"t":"2024-10-10","o":9.11e-6,"h":9.47e-6,"l":8.84e-6,"c":9.32e-6,"e":9.01e-6},
{"t":"2024-10-11","o":9.32e-6,"h":9.96e-6,"l":9.24e-6,"c":9.76e-6,"e":9.02e-6},
{"t":"2024-10-12","o":9.75e-6,"h":10.25e-6,"l":9.71e-6,"c":9.91e-6,"e":9.04e-6},
{"t":"2024-10-13","o":9.91e-6,"h":10.02e-6,"l":9.41e-6,"c":9.71e-6,"e":9.05e-6},
{"t":"2024-10-14","o":9.71e-6,"h":11.08e-6,"l":9.58e-6,"c":10.92e-6,"e":9.09e-6},
{"t":"2024-10-15","o":10.92e-6,"h":11.18e-6,"l":10.06e-6,"c":10.39e-6,"e":9.12e-6},
{"t":"2024-10-16","o":10.39e-6,"h":10.68e-6,"l":10.13e-6,"c":10.45e-6,"e":9.16e-6},
{"t":"2024-10-17","o":10.45e-6,"h":10.57e-6,"l":9.67e-6,"c":9.90e-6,"e":9.19e-6},
{"t":"2024-10-18","o":9.90e-6,"h":10.73e-6,"l":9.87e-6,"c":10.53e-6,"e":9.21e-6},
{"t":"2024-10-19","o":10.54e-6,"h":10.96e-6,"l":10.36e-6,"c":10.51e-6,"e":9.24e-6},
{"t":"2024-10-20","o":10.51e-6,"h":10.81e-6,"l":10.15e-6,"c":10.71e-6,"e":9.27e-6},
{"t":"2024-10-21","o":10.71e-6,"h":10.90e-6,"l":10.08e-6,"c":10.19e-6,"e":9.28e-6},
{"t":"2024-10-22","o":10.20e-6,"h":10.36e-6,"l":9.90e-6,"c":10.10e-6,"e":9.29e-6},
{"t":"2024-10-23","o":10.11e-6,"h":10.13e-6,"l":9.47e-6,"c":9.82e-6,"e":9.29e-6},
{"t":"2024-10-24","o":9.82e-6,"h":10.09e-6,"l":9.71e-6,"c":10.02e-6,"e":9.30e-6},
{"t":"2024-10-25","o":10.02e-6,"h":10.07e-6,"l":8.49e-6,"c":8.81e-6,"e":9.31e-6},
{"t":"2024-10-26","o":8.81e-6,"h":9.13e-6,"l":8.67e-6,"c":9.07e-6,"e":9.31e-6},
{"t":"2024-10-27","o":9.07e-6,"h":9.28e-6,"l":8.96e-6,"c":9.18e-6,"e":9.31e-6},
{"t":"2024-10-28","o":9.18e-6,"h":9.47e-6,"l":8.62e-6,"c":9.21e-6,"e":9.31e-6},
{"t":"2024-10-29","o":9.18e-6,"h":9.93e-6,"l":9.18e-6,"c":9.70e-6,"e":9.31e-6},
{"t":"2024-10-30","o":9.72e-6,"h":10.13e-6,"l":9.30e-6,"c":9.69e-6,"e":9.30e-6},
{"t":"2024-10-31","o":9.67e-6,"h":9.72e-6,"l":9.04e-6,"c":9.15e-6,"e":9.30e-6},
{"t":"2024-11-01","o":9.15e-6,"h":9.35e-6,"l":8.75e-6,"c":8.90e-6,"e":9.28e-6},
{"t":"2024-11-02","o":8.91e-6,"h":9.02e-6,"l":8.58e-6,"c":8.73e-6,"e":9.26e-6},
{"t":"2024-11-03","o":8.75e-6,"h":8.76e-6,"l":7.91e-6,"c":8.19e-6,"e":9.25e-6},
{"t":"2024-11-04","o":8.21e-6,"h":8.40e-6,"l":7.75e-6,"c":7.95e-6,"e":9.23e-6},
{"t":"2024-11-05","o":7.95e-6,"h":8.84e-6,"l":7.95e-6,"c":8.59e-6,"e":9.22e-6},
{"t":"2024-11-06","o":8.59e-6,"h":10.07e-6,"l":8.59e-6,"c":9.93e-6,"e":9.24e-6},
{"t":"2024-11-07","o":9.92e-6,"h":11.20e-6,"l":9.80e-6,"c":11.03e-6,"e":9.27e-6},
{"t":"2024-11-08","o":11.03e-6,"h":11.60e-6,"l":10.60e-6,"c":11.35e-6,"e":9.31e-6},
{"t":"2024-11-09","o":11.35e-6,"h":12.10e-6,"l":11.10e-6,"c":11.85e-6,"e":9.36e-6},
{"t":"2024-11-10","o":11.85e-6,"h":13.00e-6,"l":11.60e-6,"c":12.35e-6,"e":9.41e-6},
{"t":"2024-11-11","o":12.35e-6,"h":13.46e-6,"l":12.00e-6,"c":13.01e-6,"e":9.46e-6},
{"t":"2024-11-12","o":13.01e-6,"h":14.91e-6,"l":12.35e-6,"c":14.15e-6,"e":9.52e-6},
{"t":"2024-11-13","o":14.15e-6,"h":22.43e-6,"l":12.56e-6,"c":20.82e-6,"e":9.73e-6},
{"t":"2024-11-14","o":20.82e-6,"h":25.66e-6,"l":20.11e-6,"c":20.66e-6,"e":9.95e-6},
{"t":"2024-11-15","o":20.66e-6,"h":23.98e-6,"l":18.84e-6,"c":23.31e-6,"e":10.21e-6},
{"t":"2024-11-16","o":23.31e-6,"h":23.65e-6,"l":20.71e-6,"c":21.28e-6,"e":10.43e-6},
{"t":"2024-11-17","o":21.28e-6,"h":22.57e-6,"l":19.50e-6,"c":21.21e-6,"e":10.65e-6},
{"t":"2024-11-18","o":21.21e-6,"h":22.75e-6,"l":19.69e-6,"c":20.47e-6,"e":10.84e-6},
{"t":"2024-11-19","o":20.47e-6,"h":21.21e-6,"l":18.99e-6,"c":19.69e-6,"e":11.02e-6},
{"t":"2024-11-20","o":19.69e-6,"h":20.61e-6,"l":18.35e-6,"c":18.79e-6,"e":11.17e-6},
{"t":"2024-11-21","o":18.79e-6,"h":21.69e-6,"l":18.09e-6,"c":20.68e-6,"e":11.36e-6},
{"t":"2024-11-22","o":20.71e-6,"h":21.85e-6,"l":19.81e-6,"c":20.68e-6,"e":11.54e-6},
{"t":"2024-11-23","o":20.66e-6,"h":22.36e-6,"l":19.78e-6,"c":20.50e-6,"e":11.72e-6},
{"t":"2024-11-24","o":20.50e-6,"h":21.22e-6,"l":19.09e-6,"c":20.22e-6,"e":11.89e-6},
{"t":"2024-11-25","o":20.22e-6,"h":20.75e-6,"l":18.39e-6,"c":19.00e-6,"e":12.03e-6},
{"t":"2024-11-26","o":19.00e-6,"h":19.46e-6,"l":17.33e-6,"c":18.28e-6,"e":12.16e-6},
{"t":"2024-11-27","o":18.28e-6,"h":20.13e-6,"l":17.91e-6,"c":19.73e-6,"e":12.32e-6},
{"t":"2024-11-28","o":19.73e-6,"h":20.32e-6,"l":18.97e-6,"c":19.87e-6,"e":12.47e-6},
{"t":"2024-11-29","o":19.87e-6,"h":21.28e-6,"l":19.52e-6,"c":20.47e-6,"e":12.63e-6},
{"t":"2024-11-30","o":20.47e-6,"h":21.65e-6,"l":20.11e-6,"c":20.22e-6,"e":12.79e-6},
{"t":"2024-12-01","o":20.22e-6,"h":23.29e-6,"l":20.11e-6,"c":22.27e-6,"e":12.98e-6},
{"t":"2024-12-02","o":22.27e-6,"h":22.83e-6,"l":19.66e-6,"c":20.43e-6,"e":13.13e-6},
{"t":"2024-12-03","o":20.43e-6,"h":21.05e-6,"l":18.88e-6,"c":20.24e-6,"e":13.28e-6},
{"t":"2024-12-04","o":20.24e-6,"h":22.07e-6,"l":20.22e-6,"c":21.80e-6,"e":13.45e-6},
{"t":"2024-12-05","o":21.77e-6,"h":22.89e-6,"l":20.36e-6,"c":21.21e-6,"e":13.61e-6},
{"t":"2024-12-06","o":21.21e-6,"h":22.25e-6,"l":20.40e-6,"c":21.56e-6,"e":13.80e-6},
{"t":"2024-12-07","o":21.56e-6,"h":26.94e-6,"l":21.16e-6,"c":24.92e-6,"e":14.02e-6},
{"t":"2024-12-08","o":24.92e-6,"h":27.14e-6,"l":24.23e-6,"c":26.41e-6,"e":14.30e-6},
{"t":"2024-12-09","o":26.41e-6,"h":28.298e-6,"l":23.22e-6,"c":26.51e-6,"e":14.55e-6},
{"t":"2024-12-10","o":26.51e-6,"h":27.21e-6,"l":22.12e-6,"c":23.50e-6,"e":14.74e-6},
{"t":"2024-12-11","o":23.50e-6,"h":25.48e-6,"l":21.65e-6,"c":25.13e-6,"e":14.93e-6},
{"t":"2024-12-12","o":25.13e-6,"h":25.72e-6,"l":23.22e-6,"c":23.65e-6,"e":15.10e-6},
{"t":"2024-12-13","o":23.65e-6,"h":24.97e-6,"l":23.08e-6,"c":24.74e-6,"e":15.28e-6},
{"t":"2024-12-14","o":24.74e-6,"h":24.87e-6,"l":22.92e-6,"c":23.31e-6,"e":15.45e-6},
{"t":"2024-12-15","o":23.31e-6,"h":24.49e-6,"l":22.60e-6,"c":24.14e-6,"e":15.62e-6},
{"t":"2024-12-16","o":24.14e-6,"h":24.69e-6,"l":22.91e-6,"c":23.44e-6,"e":15.76e-6},
{"t":"2024-12-17","o":23.44e-6,"h":23.65e-6,"l":22.09e-6,"c":22.43e-6,"e":15.86e-6},
{"t":"2024-12-18","o":22.43e-6,"h":22.52e-6,"l":19.16e-6,"c":19.44e-6,"e":15.93e-6},
{"t":"2024-12-19","o":19.44e-6,"h":19.74e-6,"l":16.56e-6,"c":17.04e-6,"e":15.96e-6},
{"t":"2024-12-20","o":17.06e-6,"h":17.93e-6,"l":14.43e-6,"c":17.66e-6,"e":15.99e-6},
{"t":"2024-12-21","o":17.66e-6,"h":19.73e-6,"l":16.95e-6,"c":17.41e-6,"e":16.02e-6},
{"t":"2024-12-22","o":17.41e-6,"h":18.42e-6,"l":16.71e-6,"c":17.85e-6,"e":16.05e-6},
{"t":"2024-12-23","o":17.85e-6,"h":18.84e-6,"l":17.24e-6,"c":18.47e-6,"e":16.09e-6},
{"t":"2024-12-24","o":18.46e-6,"h":19.459e-6,"l":17.881e-6,"c":19.09e-6,"e":16.132e-6}
]},
"layer": [
{
"mark": {"type": "line", "color": "#2962ff", "strokeWidth": 2.2},
"encoding": {
"x": {"field": "t", "type": "temporal", "title": null,
"scale": {"type": "utc", "domain": [{"year":2024,"month":2,"date":29,"hours":20,"minutes":39,"utc":true},{"year":2024,"month":12,"date":29,"hours":1,"minutes":26,"utc":true}]},
"axis": {"values": [{"year":2024,"month":3,"date":1,"utc":true},{"year":2024,"month":4,"date":1,"utc":true},{"year":2024,"month":5,"date":1,"utc":true},{"year":2024,"month":6,"date":1,"utc":true},{"year":2024,"month":7,"date":1,"utc":true},{"year":2024,"month":8,"date":1,"utc":true},{"year":2024,"month":9,"date":1,"utc":true},{"year":2024,"month":10,"date":1,"utc":true},{"year":2024,"month":11,"date":1,"utc":true},{"year":2024,"month":12,"date":1,"utc":true}],
"labelExpr": "utcFormat(datum.value, '%b') == 'Mar' ? 'ar' : utcFormat(datum.value, '%b')",
"labelFlush": 10, "domain": false, "ticks": false, "tickSize": 0, "grid": false,
"labelFont": "Inter", "labelFontSize": 30, "labelFontWeight": 600, "labelColor": "#131722",
"labelPadding": 32, "labelBaseline": "middle", "labelOverlap": false, "labelLimit": 0, "zindex": 0, "title": null}},
"y": {"field": "e", "type": "quantitative", "title": null,
"scale": {"domain": [-1.402e-6, 3.1642e-5], "zero": false, "nice": false},
"axis": {"orient": "right", "values": [0, 0.000002, 0.000004, 0.000006, 0.000008, 0.00001, 0.000012, 0.000014, 0.000016, 0.000018, 0.00002, 0.000022, 0.000024, 0.000026, 0.000028, 0.00003],
"labelExpr": "datum.value < 1e-9 ? '\u22120.000000000' : format(datum.value, '.9f')",
"domain": false, "ticks": false, "tickSize": 0, "grid": false,
"labelFont": "Inter", "labelFontSize": 30, "labelColor": "#131722",
"labelPadding": 24, "labelAlign": "left", "labelBaseline": "middle", "labelOverlap": false, "labelBound": false, "labelLimit": 0, "zindex": 0, "title": null}}
}
},
{
"data": {"values": [{}]},
"mark": {"type": "rule", "color": "#2962ff", "strokeWidth": 2, "strokeDash": [2, 3.5]},
"encoding": {"y": {"datum": 1.909e-5, "type": "quantitative", "title": null}}
},
{
"data": {"values": [{}]},
"mark": {"type": "rule", "color": "#2962ff", "strokeWidth": 2.5},
"encoding": {
"x": {"datum": {"year":2024,"month":9,"date":27,"hours":19,"minutes":12,"utc":true}, "type": "temporal", "title": null},
"x2": {"datum": {"year":2024,"month":12,"date":29,"hours":1,"minutes":26,"utc":true}},
"y": {"datum": 2.8298e-5, "type": "quantitative", "title": null}}
},
{
"data": {"values": [{}]},
"mark": {"type": "rule", "color": "#2962ff", "strokeWidth": 2.5},
"encoding": {
"x": {"datum": {"year":2024,"month":5,"date":20,"utc":true}, "type": "temporal", "title": null},
"x2": {"datum": {"year":2024,"month":12,"date":29,"hours":1,"minutes":26,"utc":true}},
"y": {"datum": 1.7131e-5, "type": "quantitative", "title": null}}
},
{
"mark": {"type": "rule", "strokeWidth": 2},
"encoding": {
"x": {"field": "t", "type": "temporal", "title": null},
"y": {"field": "l", "type": "quantitative", "title": null},
"y2": {"field": "h"},
"color": {"condition": {"test": "datum.c >= datum.o", "value": "#089981"}, "value": "#f23645"}}
},
{
"mark": {"type": "bar", "width": 6.5, "strokeWidth": 2},
"encoding": {
"x": {"field": "t", "type": "temporal", "title": null},
"y": {"field": "o", "type": "quantitative", "title": null},
"y2": {"field": "c"},
"fill": {"condition": {"test": "datum.c >= datum.o", "value": "#2962ff"}, "value": "#f23645"},
"stroke": {"condition": {"test": "datum.c >= datum.o", "value": "#089981"}, "value": "#f23645"}}
},
{
"data": {"values": [{}]},
"mark": {"type": "rect", "color": "#2962ff", "cornerRadius": 4},
"encoding": {
"x": {"datum": {"year":2024,"month":12,"date":29,"hours":12,"minutes":14,"utc":true}, "type": "temporal", "title": null},
"x2": {"datum": {"year":2025,"month":1,"date":20,"hours":14,"minutes":53,"utc":true}},
"y": {"datum": 2.7883e-5, "type": "quantitative", "title": null},
"y2": {"datum": 2.8713e-5}}
},
{
"data": {"values": [{}]},
"mark": {"type": "text", "text": "0.000028298", "color": "#ffffff", "font": "Inter", "fontSize": 30, "align": "left", "baseline": "middle"},
"encoding": {
"x": {"datum": {"year":2024,"month":12,"date":31,"hours":6,"minutes":43,"utc":true}, "type": "temporal", "title": null},
"y": {"datum": 2.8298e-5, "type": "quantitative", "title": null}}
},
{
"data": {"values": [{}]},
"mark": {"type": "rect", "color": "#2962ff", "cornerRadius": 4},
"encoding": {
"x": {"datum": {"year":2024,"month":12,"date":29,"hours":12,"minutes":14,"utc":true}, "type": "temporal", "title": null},
"x2": {"datum": {"year":2025,"month":1,"date":20,"hours":14,"minutes":53,"utc":true}},
"y": {"datum": 1.6716e-5, "type": "quantitative", "title": null},
"y2": {"datum": 1.7546e-5}}
},
{
"data": {"values": [{}]},
"mark": {"type": "text", "text": "0.000017131", "color": "#ffffff", "font": "Inter", "fontSize": 30, "align": "left", "baseline": "middle"},
"encoding": {
"x": {"datum": {"year":2024,"month":12,"date":31,"hours":6,"minutes":43,"utc":true}, "type": "temporal", "title": null},
"y": {"datum": 1.7131e-5, "type": "quantitative", "title": null}}
},
{
"data": {"values": [{}]},
"mark": {"type": "rect", "fill": "#ffffff", "stroke": "#e0e3eb", "strokeWidth": 2, "cornerRadius": 8},
"encoding": {
"x": {"datum": {"year":2024,"month":12,"date":30,"hours":1,"minutes":55,"utc":true}, "type": "temporal", "title": null},
"x2": {"datum": {"year":2025,"month":1,"date":22,"hours":11,"minutes":46,"utc":true}},
"y": {"datum": 3.0554e-5, "type": "quantitative", "title": null},
"y2": {"datum": 3.1476e-5}}
},
{
"data": {"values": [{}]},
"mark": {"type": "text", "text": "USD", "color": "#131722", "font": "Inter", "fontSize": 23, "align": "left", "baseline": "middle"},
"encoding": {
"x": {"datum": {"year":2024,"month":12,"date":31,"hours":20,"minutes":10,"utc":true}, "type": "temporal", "title": null},
"y": {"datum": 3.1015e-5, "type": "quantitative", "title": null}}
},
{
"data": {"values": [{}]},
"mark": {"type": "text", "text": "Pepe, 1D, CRYPTO", "color": "#131722", "font": "Inter", "fontSize": 23.5, "align": "left", "baseline": "middle"},
"encoding": {"x": {"datum": {"year":2024,"month":3,"date":2,"hours":9,"minutes":27,"utc":true}, "type": "temporal", "title": null}, "y": {"datum": 3.1052e-5, "type": "quantitative", "title": null}}
},
{
"data": {"values": [{}]},
"mark": {"type": "text", "text": "O", "color": "#131722", "font": "Inter", "fontSize": 23.5, "align": "left", "baseline": "middle"},
"encoding": {"x": {"datum": {"year":2024,"month":3,"date":23,"hours":6,"minutes":6,"utc":true}, "type": "temporal", "title": null}, "y": {"datum": 3.1052e-5, "type": "quantitative", "title": null}}
},
{
"data": {"values": [{}]},
"mark": {"type": "text", "text": "0.000018460", "color": "#089981", "font": "Inter", "fontSize": 23.5, "align": "left", "baseline": "middle"},
"encoding": {"x": {"datum": {"year":2024,"month":3,"date":24,"hours":21,"minutes":20,"utc":true}, "type": "temporal", "title": null}, "y": {"datum": 3.1052e-5, "type": "quantitative", "title": null}}
},
{
"data": {"values": [{}]},
"mark": {"type": "text", "text": "H", "color": "#131722", "font": "Inter", "fontSize": 23.5, "align": "left", "baseline": "middle"},
"encoding": {"x": {"datum": {"year":2024,"month":4,"date":9,"hours":6,"minutes":13,"utc":true}, "type": "temporal", "title": null}, "y": {"datum": 3.1052e-5, "type": "quantitative", "title": null}}
},
{
"data": {"values": [{}]},
"mark": {"type": "text", "text": "0.000019459", "color": "#089981", "font": "Inter", "fontSize": 23.5, "align": "left", "baseline": "middle"},
"encoding": {"x": {"datum": {"year":2024,"month":4,"date":11,"hours":0,"minutes":35,"utc":true}, "type": "temporal", "title": null}, "y": {"datum": 3.1052e-5, "type": "quantitative", "title": null}}
},
{
"data": {"values": [{}]},
"mark": {"type": "text", "text": "L", "color": "#131722", "font": "Inter", "fontSize": 23.5, "align": "left", "baseline": "middle"},
"encoding": {"x": {"datum": {"year":2024,"month":4,"date":26,"hours":11,"minutes":53,"utc":true}, "type": "temporal", "title": null}, "y": {"datum": 3.1052e-5, "type": "quantitative", "title": null}}
},
{
"data": {"values": [{}]},
"mark": {"type": "text", "text": "0.000017881", "color": "#089981", "font": "Inter", "fontSize": 23.5, "align": "left", "baseline": "middle"},
"encoding": {"x": {"datum": {"year":2024,"month":4,"date":27,"hours":15,"minutes":45,"utc":true}, "type": "temporal", "title": null}, "y": {"datum": 3.1052e-5, "type": "quantitative", "title": null}}
},
{
"data": {"values": [{}]},
"mark": {"type": "text", "text": "C", "color": "#131722", "font": "Inter", "fontSize": 23.5, "align": "left", "baseline": "middle"},
"encoding": {"x": {"datum": {"year":2024,"month":5,"date":12,"hours":12,"minutes":35,"utc":true}, "type": "temporal", "title": null}, "y": {"datum": 3.1052e-5, "type": "quantitative", "title": null}}
},
{
"data": {"values": [{}]},
"mark": {"type": "text", "text": "0.000019090", "color": "#089981", "font": "Inter", "fontSize": 23.5, "align": "left", "baseline": "middle"},
"encoding": {"x": {"datum": {"year":2024,"month":5,"date":14,"hours":4,"minutes":42,"utc":true}, "type": "temporal", "title": null}, "y": {"datum": 3.1052e-5, "type": "quantitative", "title": null}}
},
{
"data": {"values": [{}]},
"mark": {"type": "text", "text": "EMA (100, close)", "color": "#131722", "font": "Inter", "fontSize": 23.5, "align": "left", "baseline": "middle"},
"encoding": {"x": {"datum": {"year":2024,"month":3,"date":2,"hours":9,"minutes":27,"utc":true}, "type": "temporal", "title": null}, "y": {"datum": 3.0498e-5, "type": "quantitative", "title": null}}
},
{
"data": {"values": [{}]},
"mark": {"type": "text", "text": "0.000016132", "color": "#2962ff", "font": "Inter", "fontSize": 23.5, "align": "left", "baseline": "middle"},
"encoding": {"x": {"datum": {"year":2024,"month":3,"date":21,"hours":8,"minutes":50,"utc":true}, "type": "temporal", "title": null}, "y": {"datum": 3.0498e-5, "type": "quantitative", "title": null}}
},
{
"data": {"values": [{}]},
"mark": {"type": "text", "text": "crispus9 published on TradingView.com, Dec 24, 2024 19:57 UTC+3", "color": "#131722", "font": "Inter", "fontSize": 24, "align": "left", "baseline": "middle"},
"encoding": {"x": {"datum": {"year":2024,"month":2,"date":29,"hours":22,"minutes":53,"utc":true}, "type": "temporal", "title": null}, "y": {"datum": 3.2085e-5, "type": "quantitative", "title": null}}
},
{
"data": {"values": [{}]},
"mark": {"type": "text", "text": "TradingView", "color": "#131722", "font": "Inter", "fontSize": 25, "align": "left", "baseline": "middle"},
"encoding": {"x": {"datum": {"year":2024,"month":3,"date":5,"hours":9,"minutes":56,"utc":true}, "type": "temporal", "title": null}, "y": {"datum": -3.284e-6, "type": "quantitative", "title": null}}
},
{
"data": {"values": [{}]},
"mark": {"type": "text", "text": "TV", "color": "#131722", "font": "Inter", "fontSize": 30, "fontWeight": 900, "align": "left", "baseline": "middle"},
"encoding": {"x": {"datum": {"year":2024,"month":2,"date":29,"hours":20,"minutes":39,"utc":true}, "type": "temporal", "title": null}, "y": {"datum": -3.266e-6, "type": "quantitative", "title": null}}
},
{
"data": {"values": [{}]},
"mark": {"type": "rect", "fill": "transparent", "stroke": "#e0e3eb", "strokeWidth": 3},
"encoding": {
"x": {"datum": {"year":2024,"month":2,"date":29,"hours":20,"minutes":39,"utc":true}, "type": "temporal", "title": null},
"x2": {"datum": {"year":2025,"month":1,"date":23,"hours":3,"minutes":36,"utc":true}},
"y": {"datum": -2.62e-6, "type": "quantitative", "title": null},
"y2": {"datum": 3.1642e-5}}
}
]
}
